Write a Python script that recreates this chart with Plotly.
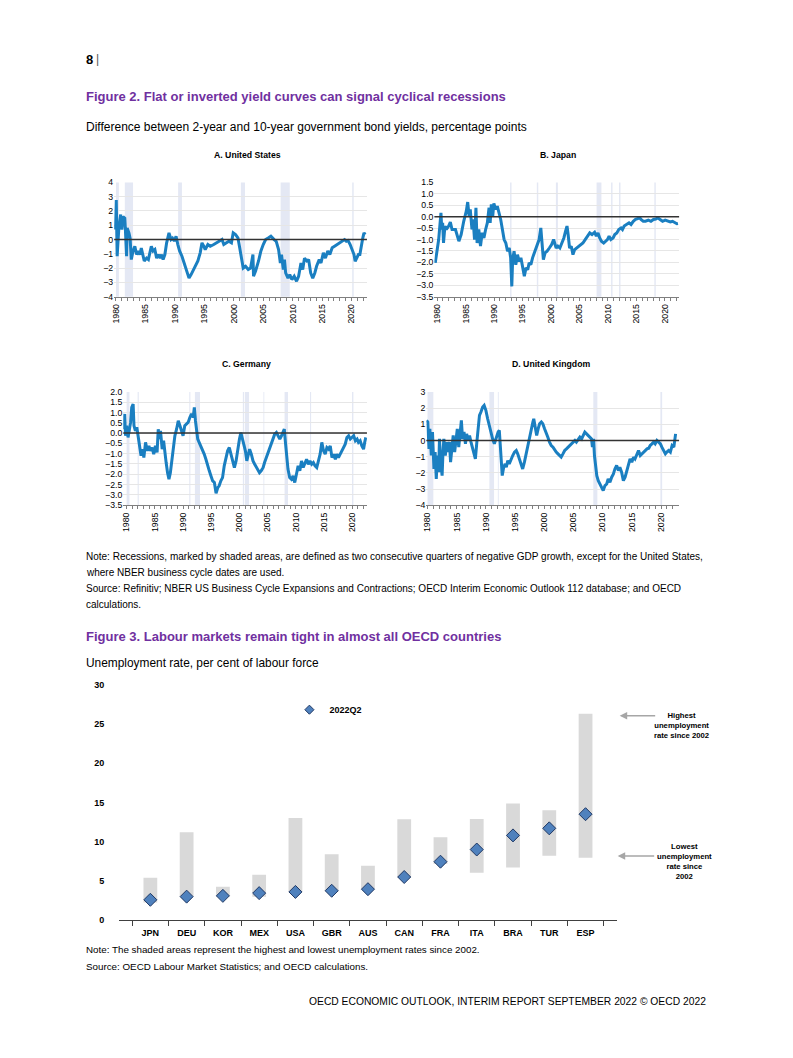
import plotly.graph_objects as go

# figure size; page pixels are converted to figure fractions with a measured offset/scale
FW, FH = 777, 1042
SX, OX, OY = 0.988, 14.5, 14.0
ARIAL = "Liberation Sans, Arial, sans-serif"
PURPLE = "#7030a0"
LINE_BLUE = "#1a7fc1"
SHADE = "#e4e8f4"

# ---------------- Figure 2 data: 2y minus 10y spread ----------------
us_t = [1979.9, 1980.05, 1980.2, 1980.5, 1980.8, 1981.0, 1981.2, 1981.5, 1981.6, 1981.8, 1981.9, 1982.2, 1982.4,
        1982.5, 1982.6, 1982.9, 1983.2, 1983.5, 1983.8, 1984.05, 1984.3, 1984.8, 1985.2, 1985.5, 1986.0, 1986.3,
        1986.6, 1986.9, 1987.2, 1987.5, 1987.75, 1988.0, 1988.3, 1988.6, 1989.0, 1989.35, 1989.6, 1989.9, 1990.2,
        1990.5, 1990.8, 1991.2, 1991.6, 1992.0, 1992.4, 1992.75, 1993.2, 1993.55, 1993.9, 1994.3, 1994.6, 1994.9,
        1995.15, 1995.6, 1996.0, 1996.6, 1997.15, 1997.7, 1998.0, 1998.3, 1998.7, 1999.15, 1999.6, 1999.9, 2000.3,
        2000.7, 2001.0, 2001.3, 2001.6, 2002.0, 2002.45, 2002.85, 2003.25, 2003.35, 2003.7, 2004.2, 2004.6, 2005.0,
        2005.4, 2005.9, 2006.3, 2006.85, 2007.2, 2007.6, 2007.9, 2008.1, 2008.4, 2008.6, 2008.8, 2009.2, 2009.5,
        2009.85, 2010.25, 2010.65, 2011.0, 2011.4, 2011.7, 2012.0, 2012.4, 2012.7, 2013.05, 2013.4, 2013.75,
        2014.05, 2014.5, 2014.8, 2015.2, 2015.55, 2015.95, 2016.3, 2016.7, 2017.1, 2017.5, 2017.95, 2018.4,
        2018.8, 2019.1, 2019.4, 2019.75, 2020.1, 2020.4, 2020.6, 2020.85, 2021.15, 2021.4, 2021.65, 2021.9,
        2022.1, 2022.3]
us_v = [0.7, 2.76, -1.17, 0.9, 1.75, 0.7, 1.6, 1.5, 0.7, -1.17, 0.8, 0.47, 0.1,
        -0.7, -1.4, -0.8, -0.47, -1.05, -0.8, -1.05, -0.6, -1.5, -1.3, -1.4, -0.47, -0.8,
        -0.7, -1.3, -1.05, -1.3, -1.05, -1.4, -1.05, -0.23, 0.47, 0.0, 0.1, -0.1, 0.23,
        -0.35, -0.8, -1.17, -1.64, -2.2, -2.7, -2.45, -2.1, -1.75, -1.5, -0.93, -0.23, -0.47,
        -0.7, -0.35, -0.47, -0.35, -0.23, -0.12, 0.0, -0.35, -0.23, -0.12, -0.23, 0.47, 0.35,
        0.12, -0.58, -1.4, -2.0, -1.87, -2.1, -2.0, -1.05, -2.57, -2.2, -1.5, -0.8, -0.35,
        0.0, 0.12, 0.23, 0.0, -0.12, -0.7, -1.64, -1.05, -2.1, -1.4, -2.34, -2.7, -2.45,
        -2.8, -2.57, -2.92, -2.57, -1.64, -2.1, -1.3, -1.5, -1.4, -2.34, -2.7, -2.34,
        -1.87, -1.4, -1.64, -0.93, -1.3, -0.8, -1.05, -0.58, -0.47, -0.35, -0.23, -0.12,
        0.0, -0.12, -0.07, -0.35, -0.7, -1.05, -1.52, -1.3, -1.05, -1.05, -0.35, 0.12,
        0.47, 0.35]

jp_t = [1979.65, 1980.25, 1980.65, 1980.8, 1980.95, 1981.1, 1981.35, 1981.6, 1982.0, 1982.3, 1982.6, 1983.2,
        1983.8, 1984.2, 1984.65, 1985.1, 1985.35, 1985.6, 1985.8, 1986.1, 1986.3, 1986.55, 1986.8, 1987.0,
        1987.3, 1987.6, 1987.9, 1988.2, 1988.5, 1988.8, 1989.1, 1989.3, 1989.5, 1989.75, 1989.95, 1990.25,
        1990.55, 1990.85, 1991.15, 1991.45, 1991.75, 1992.05, 1992.35, 1992.65, 1992.9, 1993.1, 1993.25,
        1993.5, 1993.8, 1994.1, 1994.4, 1994.7, 1995.0, 1995.3, 1995.6, 1995.9, 1996.15, 1996.45, 1996.75,
        1997.05, 1997.35, 1997.65, 1997.9, 1998.2, 1998.4, 1998.65, 1998.95, 1999.3, 1999.7, 2000.1, 2000.45,
        2000.9, 2001.2, 2001.55, 2001.9, 2002.25, 2002.55, 2002.8, 2003.0, 2003.25, 2003.55, 2003.85, 2004.15,
        2004.5, 2004.85, 2005.2, 2005.6, 2006.0, 2006.35, 2006.8, 2007.2, 2007.65, 2007.95, 2008.25, 2008.55,
        2008.85, 2009.25, 2009.6, 2009.9, 2010.2, 2010.5, 2010.9, 2011.2, 2011.55, 2011.9, 2012.3, 2012.55,
        2012.85, 2013.25, 2013.7, 2014.05, 2014.45, 2014.85, 2015.2, 2015.6, 2015.8, 2016.2, 2016.6, 2017.1,
        2017.55, 2018.0, 2018.4, 2018.75, 2019.15, 2019.6, 2020.05, 2020.55, 2020.95, 2021.35, 2021.7,
        2022.1, 2022.3]
jp_v = [-2.02, -1.0, 0.17, -0.56, -0.27, -1.15, -0.41, -0.56, -0.41, -0.24, -0.56, -0.56,
        -1.07, -0.78, -0.2, 0.24, 0.64, 0.02, 0.32, -0.56, -0.12, -1.0, 0.39, -1.15,
        -0.56, -1.29, -0.7, -0.93, -0.56, -0.27, 0.39, -0.27, 0.54, 0.02, 0.58, 0.32,
        0.46, 0.17, -0.12, -0.56, -1.0, -1.15, -1.51, -1.37, -1.8, -3.05, -1.88,
        -1.51, -2.1, -1.66, -1.95, -1.8, -2.17, -2.6, -2.24, -2.32, -2.02, -2.1, -1.8,
        -1.58, -1.37, -1.22, -1.0, -0.49, -1.15, -1.88, -1.58, -1.51, -1.37, -1.22, -1.0,
        -1.37, -1.29, -1.37, -1.15, -0.93, -0.63, -0.41, -0.78, -1.37, -1.29, -1.66, -1.44,
        -1.37, -1.29, -1.22, -1.15, -1.0, -0.85, -0.71, -0.78, -0.68, -0.85, -0.71, -0.93,
        -1.07, -1.15, -1.07, -1.0, -0.85, -1.0, -0.93, -0.78, -0.71, -0.56, -0.49, -0.56,
        -0.41, -0.34, -0.27, -0.34, -0.2, -0.12, -0.1, -0.05, -0.12, -0.2, -0.2, -0.15,
        -0.2, -0.12, -0.1, -0.05, -0.12, -0.2, -0.15, -0.2, -0.23, -0.2, -0.27,
        -0.31, -0.3]

de_t = [1979.45, 1979.65, 1979.8, 1980.0, 1980.25, 1980.5, 1980.7, 1980.9, 1981.15, 1981.3, 1981.55, 1981.8,
        1982.0, 1982.25, 1982.55, 1982.8, 1983.05, 1983.35, 1983.65, 1983.95, 1984.2, 1984.5, 1984.8, 1985.1,
        1985.4, 1985.6, 1985.8, 1986.0, 1986.3, 1986.55, 1986.8, 1987.0, 1987.25, 1987.5, 1987.75, 1988.0,
        1988.3, 1988.55, 1988.85, 1989.15, 1989.45, 1989.75, 1990.0, 1990.3, 1990.6, 1990.9, 1991.2, 1991.5,
        1991.8, 1992.0, 1992.2, 1992.4, 1992.6, 1992.85, 1993.15, 1993.45, 1993.75, 1994.05, 1994.35, 1994.65,
        1994.95, 1995.25, 1995.55, 1995.85, 1996.15, 1996.4, 1996.7, 1997.0, 1997.3, 1997.6, 1997.9, 1998.2,
        1998.5, 1998.8, 1999.1, 1999.4, 1999.7, 2000.0, 2000.25, 2000.5, 2000.75, 2001.05, 2001.3, 2001.55,
        2001.8, 2002.1, 2002.4, 2002.7, 2003.0, 2003.25, 2003.55, 2003.85, 2004.2, 2004.45, 2004.75, 2005.05,
        2005.35, 2005.65, 2005.95, 2006.25, 2006.55, 2006.85, 2007.15, 2007.45, 2007.75, 2007.95, 2008.15,
        2008.35, 2008.6, 2008.9, 2009.2, 2009.5, 2009.8, 2010.1, 2010.4, 2010.7, 2011.0, 2011.3, 2011.6,
        2011.9, 2012.2, 2012.5, 2012.8, 2013.1, 2013.4, 2013.7, 2014.0, 2014.3, 2014.6, 2014.9, 2015.2,
        2015.5, 2015.8, 2016.1, 2016.4, 2016.7, 2017.0, 2017.25, 2017.55, 2017.85, 2018.15, 2018.45, 2018.75,
        2019.05, 2019.35, 2019.65, 2019.95, 2020.25, 2020.55, 2020.85, 2021.1, 2021.4, 2021.7, 2022.0,
        2022.2, 2022.4]
de_v = [0.19, 0.93, -0.13, 0.36, -0.21, 0.19, 0.52, 1.25, 1.41, 0.36, 0.11, 0.28,
        -0.13, -0.62, -1.1, -0.78, -1.19, -0.45, -0.86, -0.62, -0.86, -0.7, -1.02, -0.62,
        -0.94, 0.19, -0.29, 0.11, -0.78, -0.37, -1.1, -1.43, -1.92, -2.24, -1.92, -1.35,
        -0.78, -0.13, 0.19, 0.6, 0.36, 0.03, -0.13, 0.36, 0.44, 0.52, 0.76, 0.93,
        0.76, 1.25, 0.6, -0.05, -0.29, -0.45, -0.62, -0.78, -1.02, -1.27, -1.59, -1.83,
        -2.08, -2.32, -2.4, -2.92, -2.65, -2.56, -2.32, -2.16, -1.59, -1.27, -0.86, -0.7,
        -1.02, -1.35, -1.67, -1.35, -0.7, -0.29, 0.03, -0.21, -0.45, -0.86, -1.35, -1.1,
        -0.78, -1.02, -1.35, -1.51, -1.67, -1.75, -1.92, -1.83, -1.67, -1.43, -1.19, -0.94,
        -0.7, -0.45, -0.21, -0.05, 0.03, -0.13, -0.29, -0.13, 0.03, 0.19, -0.45,
        -1.02, -1.75, -2.16, -2.24, -2.08, -2.4, -2.0, -1.59, -1.83, -1.35, -1.67, -1.43,
        -1.27, -1.51, -1.35, -1.51, -1.43, -1.59, -1.67, -1.35, -1.02, -0.45, -0.86, -1.02,
        -0.7, -0.78, -0.62, -1.19, -1.02, -1.27, -1.02, -1.19, -1.02, -0.86, -0.7, -0.54,
        -0.21, -0.13, -0.29, -0.21, -0.13, -0.37, -0.29, -0.45, -0.37, -0.62, -0.78,
        -0.45, -0.21]

uk_t = [1979.83, 1980.05, 1980.25, 1980.4, 1980.65, 1980.85, 1981.1, 1981.3, 1981.5, 1981.7, 1981.9, 1982.05,
        1982.25, 1982.5, 1982.65, 1982.8, 1983.05, 1983.3, 1983.5, 1983.75, 1983.95, 1984.2, 1984.4, 1984.65,
        1984.85, 1985.1, 1985.35, 1985.55, 1985.8, 1986.0, 1986.25, 1986.5, 1986.7, 1986.95, 1987.2, 1987.45,
        1987.7, 1988.0, 1988.2, 1988.45, 1988.7, 1988.9, 1989.15, 1989.45, 1989.7, 1990.0, 1990.3, 1990.55,
        1990.85, 1991.15, 1991.45, 1991.7, 1991.9, 1992.1, 1992.3, 1992.55, 1992.8, 1993.05, 1993.3, 1993.5,
        1993.75, 1994.0, 1994.3, 1994.6, 1994.9, 1995.2, 1995.45, 1995.75, 1996.0, 1996.3, 1996.6, 1996.9,
        1997.15, 1997.45, 1997.75, 1998.05, 1998.2, 1998.45, 1998.7, 1998.95, 1999.2, 1999.5, 1999.75, 2000.05,
        2000.3, 2000.6, 2000.9, 2001.2, 2001.5, 2001.8, 2002.05, 2002.35, 2002.6, 2002.9, 2003.2, 2003.5,
        2003.8, 2004.1, 2004.35, 2004.65, 2004.95, 2005.25, 2005.5, 2005.8, 2006.1, 2006.4, 2006.65, 2006.95,
        2007.25, 2007.5, 2007.8, 2008.1, 2008.25, 2008.45, 2008.6, 2008.8, 2009.0, 2009.25, 2009.5, 2009.8,
        2010.1, 2010.4, 2010.7, 2010.95, 2011.25, 2011.55, 2011.85, 2012.1, 2012.4, 2012.7, 2012.95, 2013.25,
        2013.55, 2013.85, 2014.15, 2014.45, 2014.7, 2015.0, 2015.3, 2015.55, 2015.85, 2016.15, 2016.45,
        2016.7, 2017.0, 2017.3, 2017.6, 2017.9, 2018.15, 2018.45, 2018.75, 2019.0, 2019.3, 2019.6, 2019.9,
        2020.15, 2020.45, 2020.75, 2021.0, 2021.3, 2021.6, 2021.9, 2022.2, 2022.35, 2022.5]
uk_v = [1.24, 1.14, -0.52, 0.72, -0.93, 0.52, -1.76, -0.72, -2.38, -0.93, -1.96, 0.1,
        -1.34, -2.17, -0.72, 0.1, -0.93, -0.1, -0.72, -0.1, -1.34, -0.41, 0.31, -0.72,
        0.1, 0.72, -0.41, 0.41, 1.24, 0.1, 0.52, -0.21, 0.41, 0.0, 0.31, -0.1,
        -0.52, -0.83, -1.14, -0.1, 0.93, 1.55, 1.76, 2.07, 2.17, 1.86, 1.34, 0.93,
        0.52, 0.1, -0.21, 0.1, 0.21, 0.52, 0.62, -0.93, -2.17, -1.65, -1.45, -1.65,
        -1.24, -1.45, -1.24, -0.93, -0.72, -0.62, -0.83, -1.14, -1.45, -1.76, -1.34, -0.83,
        -0.31, 0.31, 0.83, 1.14, 1.34, 0.83, 0.31, 0.72, 1.03, 1.14, 1.03, 0.72,
        0.52, 0.21, -0.1, -0.31, -0.41, -0.62, -0.72, -0.83, -0.93, -1.03, -0.83, -0.62,
        -0.52, -0.41, -0.31, -0.21, -0.1, 0.0, -0.1, 0.1, 0.21, 0.1, 0.31, 0.52,
        0.41, 0.31, 0.21, 0.1, -0.41, 0.1, -0.93, -1.76, -2.17, -2.48, -2.69, -2.89,
        -3.1, -2.79, -2.69, -2.38, -2.58, -2.27, -2.07, -1.76, -1.55, -1.86, -1.65, -1.96,
        -2.48, -2.27, -1.86, -1.45, -1.14, -1.34, -1.03, -1.14, -0.83, -0.62, -0.93,
        -0.83, -0.72, -0.62, -0.52, -0.48, -0.31, -0.21, -0.1, -0.21, 0.0, -0.1, -0.21,
        -0.41, -0.62, -0.83, -0.72, -0.62, -0.72, -0.31, -0.41, 0.21, 0.41]

# recession periods (start, end) in decimal years
us_rec = [(1980.0, 1980.5), (1981.5, 1982.9), (1990.55, 1991.2), (2001.2, 2001.9), (2007.95, 2009.5), (2020.1, 2020.35)]
jp_rec = [(1992.8, 1993.05), (1997.5, 1997.75), (2000.85, 2001.2), (2008.0, 2008.85), (2010.55, 2010.8),
          (2011.95, 2012.2), (2018.15, 2018.4)]
de_rec = [(1980.0, 1980.5), (1981.95, 1982.15), (1991.1, 1991.3), (1992.1, 1993.0), (2000.6, 2000.8),
          (2000.95, 2001.7), (2004.25, 2004.4), (2008.0, 2008.6), (2012.5, 2012.7), (2019.95, 2020.2)]
uk_rec = [(1980.0, 1981.0), (1990.6, 1991.4), (1992.05, 1992.2), (2008.4, 2009.1), (2019.9, 2020.2)]

panel_titles = ["A. United States", "B. Japan", "C. Germany", "D. United Kingdom"]
year_ticks = list(range(1980, 2023))
year_labels = [str(y) if y % 5 == 0 else "" for y in year_ticks]

# ---------------- Figure 3 data ----------------
countries = ["JPN", "DEU", "KOR", "MEX", "USA", "GBR", "AUS", "CAN", "FRA", "ITA", "BRA", "TUR", "ESP"]
unemp_low = [2.25, 3.0, 3.0, 3.0, 3.55, 3.65, 3.95, 5.4, 7.15, 6.05, 6.7, 8.2, 7.95]
unemp_high = [5.4, 11.2, 4.25, 5.8, 13.0, 8.4, 6.95, 12.85, 10.55, 12.9, 14.85, 14.0, 26.3]
unemp_2022q2 = [2.6, 3.0, 3.1, 3.45, 3.6, 3.75, 3.95, 5.5, 7.45, 9.0, 10.8, 11.7, 13.5]

fig = go.Figure()


def px2x(p):
    return (p - OX) / SX / FW


def px2y(p):
    return 1 - (p - OY) / SX / FH


panels = [
    # t, v, recessions, x-range, x-domain px, y-range, y-domain px (top,bottom), dtick, fmt, title pos
    (us_t, us_v, us_rec, [1979.7, 2022.6], (116, 367), [-4, 4], (183, 297), 1, "d", (248, 156)),
    (jp_t, jp_v, jp_rec, [1979.5, 2022.5], (434, 677), [-3.5, 1.5], (183, 297), 0.5, ".1f", (557, 156)),
    (de_t, de_v, de_rec, [1979.4, 2022.6], (125, 367), [-3.5, 2.0], (392, 505), 0.5, ".1f", (247, 364)),
    (uk_t, uk_v, uk_rec, [1979.8, 2023.1], (426, 677), [-4, 3], (392, 505), 1, "d", (550, 364)),
]

layout_axes = {}
shapes = []
annotations = []
for i, (t, v, recs, xr, xd, yr, yd, dt, fmt, tpos) in enumerate(panels, start=1):
    xa = "x" if i == 1 else f"x{i}"
    ya = "y" if i == 1 else f"y{i}"
    fig.add_trace(go.Scatter(x=t, y=v, mode="lines", line=dict(color=LINE_BLUE, width=3),
                             xaxis=xa, yaxis=ya, showlegend=False, hoverinfo="skip"))
    xkey = "xaxis" if i == 1 else f"xaxis{i}"
    ykey = "yaxis" if i == 1 else f"yaxis{i}"
    layout_axes[xkey] = dict(domain=[px2x(xd[0]), px2x(xd[1])], range=xr, anchor=ya,
                             tickmode="array", tickvals=year_ticks, ticktext=year_labels,
                             tickangle=-90, ticks="outside", ticklen=3, tickcolor="#7f7f7f",
                             showline=True, linecolor="#7f7f7f", linewidth=1,
                             showgrid=False, zeroline=False,
                             tickfont=dict(family=ARIAL, size=8.7, color="#000"))
    layout_axes[ykey] = dict(domain=[px2y(yd[1]), px2y(yd[0])], range=yr, anchor=xa,
                             dtick=dt, tickformat=fmt, showgrid=True, gridcolor="#e6e6e6",
                             gridwidth=1, zeroline=False, showline=False, ticks="",
                             tickfont=dict(family=ARIAL, size=8.7, color="#000"))
    for (a, b) in recs:
        shapes.append(dict(type="rect", xref=xa, yref=f"{ya} domain", x0=a, x1=b, y0=0, y1=1,
                           fillcolor=SHADE, line=dict(width=0), layer="below"))
    shapes.append(dict(type="line", xref=f"{xa} domain", yref=ya, x0=0, x1=1, y0=0, y1=0,
                       line=dict(color="#333333", width=1.5)))
    annotations.append(dict(text=f"<b>{panel_titles[i-1]}</b>", xref="paper", yref="paper",
                            x=px2x(tpos[0]), y=px2y(tpos[1]),
                            xanchor="center", yanchor="middle", showarrow=False,
                            font=dict(family=ARIAL, size=8.7, color="#000")))

# ---------------- Figure 3 traces ----------------
fig.add_trace(go.Bar(x=countries, y=[h - l for h, l in zip(unemp_high, unemp_low)], base=unemp_low,
                     marker=dict(color="#d9d9d9", line=dict(width=0)), width=0.38,
                     xaxis="x5", yaxis="y5", showlegend=False, hoverinfo="skip"))
fig.add_trace(go.Scatter(x=countries, y=unemp_2022q2, mode="markers", showlegend=False,
                         marker=dict(symbol="diamond", size=10, color="#4f81bd",
                                     line=dict(color="#1f3864", width=1)),
                         xaxis="x5", yaxis="y5", hoverinfo="skip"))
# legend entry (same style, smaller symbol like the reference)
fig.add_trace(go.Scatter(x=[None], y=[None], mode="markers", name="<b>2022Q2</b>",
                         marker=dict(symbol="diamond", size=7, color="#4f81bd",
                                     line=dict(color="#1f3864", width=1)),
                         xaxis="x5", yaxis="y5", showlegend=True))

layout_axes["xaxis5"] = dict(domain=[px2x(121), px2x(615)], anchor="y5", type="category",
                             showline=True, linecolor="#404040", linewidth=1,
                             ticks="outside", tickson="boundaries", ticklen=5, tickcolor="#404040",
                             showgrid=False, zeroline=False, tickangle=0, ticklabelstandoff=4,
                             tickvals=countries, ticktext=[f"<b>{c}</b>" for c in countries],
                             tickfont=dict(family=ARIAL, size=9, color="#000"))
y5_ticks = [0, 5, 10, 15, 20, 25, 30]
layout_axes["yaxis5"] = dict(domain=[px2y(919), px2y(684)], range=[0, 30], anchor="x5",
                             tickvals=y5_ticks, ticktext=[f"<b>{v}</b>" for v in y5_ticks],
                             showgrid=False, zeroline=False, showline=False, ticks="",
                             ticklabelstandoff=14,
                             tickfont=dict(family=ARIAL, size=9, color="#000"))

# arrows and labels for figure 3
annotations += [
    dict(xref="paper", yref="paper", x=px2x(618), y=px2y(715), ax=37, ay=0, text="",
         showarrow=True, arrowhead=2, arrowsize=1, arrowwidth=1.5, arrowcolor="#a6a6a6"),
    dict(xref="paper", yref="paper", x=px2x(616), y=px2y(855), ax=38, ay=0, text="",
         showarrow=True, arrowhead=2, arrowsize=1, arrowwidth=1.5, arrowcolor="#a6a6a6"),
    dict(xref="paper", yref="paper", x=px2x(679), y=px2y(725), showarrow=False,
         text="<b>Highest<br>unemployment<br>rate since 2002</b>", align="center",
         xanchor="center", yanchor="middle", font=dict(family=ARIAL, size=7.7, color="#000")),
    dict(xref="paper", yref="paper", x=px2x(682), y=px2y(860), showarrow=False,
         text="<b>Lowest<br>unemployment<br>rate since<br>2002</b>", align="center",
         xanchor="center", yanchor="middle", font=dict(family=ARIAL, size=7.7, color="#000")),
]


# ---------------- Page text ----------------
def txt(s, x, y, size, color="#000", bold=False, xanchor="left"):
    return dict(xref="paper", yref="paper", x=px2x(x), y=px2y(y), text=(f"<b>{s}</b>" if bold else s),
                showarrow=False, xanchor=xanchor, yanchor="middle", align="left",
                font=dict(family=ARIAL, size=size, color=color))


annotations += [
    txt("8", 86, 60, 13, bold=True),
    txt("|", 96, 60, 12, color="#555"),
    txt("Figure 2. Flat or inverted yield curves can signal cyclical recessions", 86, 97, 13,
        color=PURPLE, bold=True),
    txt("Difference between 2-year and 10-year government bond yields, percentage points", 86, 128, 12),
    txt("Note: Recessions, marked by shaded areas, are defined as two consecutive quarters of negative GDP growth, except for the United States,",
        86, 556, 10),
    txt("where NBER business cycle dates are used.", 86, 572, 10),
    txt("Source: Refinitiv; NBER US Business Cycle Expansions and Contractions; OECD Interim Economic Outlook 112 database; and OECD",
        86, 588, 10),
    txt("calculations.", 86, 604, 10),
    txt("Figure 3. Labour markets remain tight in almost all OECD countries", 86, 636, 13,
        color=PURPLE, bold=True),
    txt("Unemployment rate, per cent of labour force", 86, 662, 11.9),
    txt("Note: The shaded areas represent the highest and lowest unemployment rates since 2002.", 86, 948, 9.8),
    txt("Source: OECD Labour Market Statistics; and OECD calculations.", 86, 965, 9.8),
    txt("OECD ECONOMIC OUTLOOK, INTERIM REPORT SEPTEMBER 2022 © OECD 2022", 706, 1000, 10.3,
        xanchor="right"),
]

fig.update_layout(
    width=FW, height=FH, margin=dict(l=0, r=0, t=0, b=0),
    paper_bgcolor="white", plot_bgcolor="white",
    shapes=shapes, annotations=annotations,
    legend=dict(x=px2x(290), y=px2y(709), xanchor="left", yanchor="middle",
                bgcolor="rgba(0,0,0,0)", font=dict(family=ARIAL, size=9, color="#000"),
                itemwidth=30, tracegroupgap=0),
    **layout_axes,
)

fig.write_html("out.html")
